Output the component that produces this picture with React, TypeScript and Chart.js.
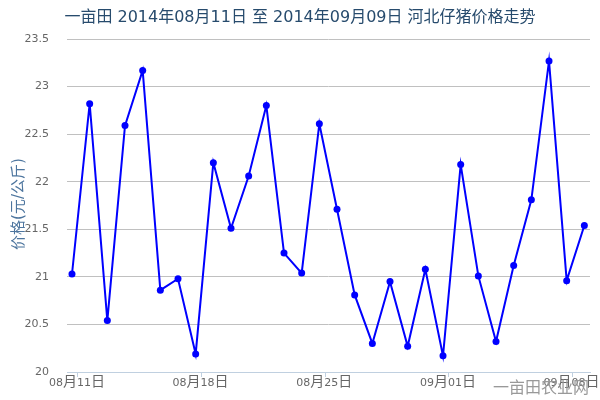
import React, { useEffect, useRef } from "react";
import { Chart, registerables } from "chart.js";

Chart.register(...registerables);

const titleText = "一亩田 2014年08月11日 至 2014年09月09日 河北仔猪价格走势";
const yAxisTitle = "价格(元/公斤)";
const watermark = "一亩田农业网";

const dates = [
  "08-11", "08-12", "08-13", "08-14", "08-15", "08-16", "08-17", "08-18",
  "08-19", "08-20", "08-21", "08-22", "08-23", "08-24", "08-25", "08-26",
  "08-27", "08-28", "08-29", "08-30", "08-31", "09-01", "09-02", "09-03",
  "09-04", "09-05", "09-06", "09-07", "09-08", "09-09",
];

const prices = [
  21.03, 22.82, 20.54, 22.59, 23.17, 20.86, 20.98, 20.19,
  22.2, 21.51, 22.06, 22.8, 21.25, 21.04, 22.61, 21.71,
  20.81, 20.3, 20.95, 20.27, 21.08, 20.17, 22.18, 21.01,
  20.32, 21.12, 21.81, 23.27, 20.96, 21.54,
];

const xTickLabels = ["08月11日", "08月18日", "08月25日", "09月01日", "09月08日"];
const xTickDays = [0, 7, 14, 21, 28];
const yTicks = [20, 20.5, 21, 21.5, 22, 22.5, 23, 23.5];

const FONT = '"DejaVu Sans", "Noto Sans CJK SC", sans-serif';
const DIGIT_FONT = '11px "DejaVu Sans", sans-serif';
const CJK_FONT = '14px "Noto Sans CJK SC", sans-serif';

export default function App() {
  const ref = useRef<HTMLCanvasElement | null>(null);

  useEffect(() => {
    const canvas = ref.current;
    if (!canvas) return;

    const textPlugin = {
      id: "texts",
      afterDraw(chart: any) {
        const ctx = chart.ctx;
        ctx.save();
        ctx.textAlign = "center";
        ctx.textBaseline = "middle";
        ctx.fillStyle = "#274b6d";
        ctx.font = `16px ${FONT}`;
        ctx.fillText(titleText, 300, 18);

        // x tick labels with mixed fonts (digits small, CJK larger)
        const xs = chart.scales.x;
        ctx.textAlign = "left";
        ctx.textBaseline = "alphabetic";
        ctx.fillStyle = "#666666";
        xs.ticks.forEach((t: any, i: number) => {
          const label = xTickLabels[i];
          if (!label) return;
          const runs: { s: string; f: string }[] = [];
          for (const ch of label) {
            const f = /[0-9]/.test(ch) ? DIGIT_FONT : CJK_FONT;
            if (runs.length && runs[runs.length - 1].f === f) runs[runs.length - 1].s += ch;
            else runs.push({ s: ch, f });
          }
          let total = 0;
          const widths = runs.map((r) => {
            ctx.font = r.f;
            const w = ctx.measureText(r.s).width;
            total += w;
            return w;
          });
          let x = xs.getPixelForValue(t.value) - total / 2 - 1;
          runs.forEach((r, k) => {
            ctx.font = r.f;
            ctx.fillText(r.s, x, 386);
            x += widths[k];
          });
        });

        ctx.textAlign = "center";
        ctx.textBaseline = "middle";
        ctx.fillStyle = "#999999";
        ctx.font = `16px ${FONT}`;
        ctx.fillText(watermark, 541, 389);

        ctx.translate(19, 204);
        ctx.rotate(-Math.PI / 2);
        ctx.fillStyle = "#4d759e";
        ctx.font = `15px ${FONT}`;
        ctx.fillText(yAxisTitle, 0, 0);
        ctx.restore();
      },
    };

    const chart = new Chart(canvas, {
      type: "line",
      data: {
        labels: dates,
        datasets: [
          {
            data: prices.map((v, i) => ({ x: i, y: v })),
            borderColor: "#0000ff",
            backgroundColor: "#0000ff",
            borderWidth: 2,
            pointRadius: 3.5,
            pointBorderWidth: 0,
            pointBackgroundColor: "#0000ff",
            tension: 0,
            fill: false,
          },
        ],
      },
      options: {
        animation: false,
        responsive: false,
        events: [],
        layout: { padding: { top: 39, right: 10, left: 0, bottom: 0 } },
        plugins: {
          legend: { display: false },
          title: { display: false },
          tooltip: { enabled: false },
        },
        scales: {
          x: {
            type: "linear",
            min: -0.283,
            max: 29.32,
            afterBuildTicks: (scale: any) => {
              scale.ticks = xTickDays.map((d) => ({ value: d + 1 / 3 }));
            },
            afterFit: (scale: any) => {
              scale.height = 28;
            },
            ticks: {
              display: false,
              autoSkip: false,
              maxRotation: 0,
            },
            grid: {
              drawOnChartArea: false,
              drawTicks: true,
              tickLength: 5,
              color: "#C0D0E0",
            },
            border: { display: true, color: "#C0D0E0", width: 1 },
          },
          y: {
            min: 20,
            max: 23.5,
            afterBuildTicks: (scale: any) => {
              scale.ticks = yTicks.map((v) => ({ value: v }));
            },
            afterFit: (scale: any) => {
              scale.width = 67;
            },
            ticks: {
              color: "#666666",
              font: { family: FONT, size: 11 },
              padding: 18,
              callback: (v: any) => String(v),
            },
            grid: {
              color: "#C0C0C0",
              lineWidth: 1,
              drawTicks: false,
            },
            border: { display: false },
          },
        },
      },
      plugins: [textPlugin],
    } as any);

    return () => chart.destroy();
  }, []);

  return (
    <div style={{ position: "absolute", left: 0, top: 0, width: 600, height: 400, background: "#fff" }}>
      <canvas ref={ref} width={600} height={400} />
    </div>
  );
}
